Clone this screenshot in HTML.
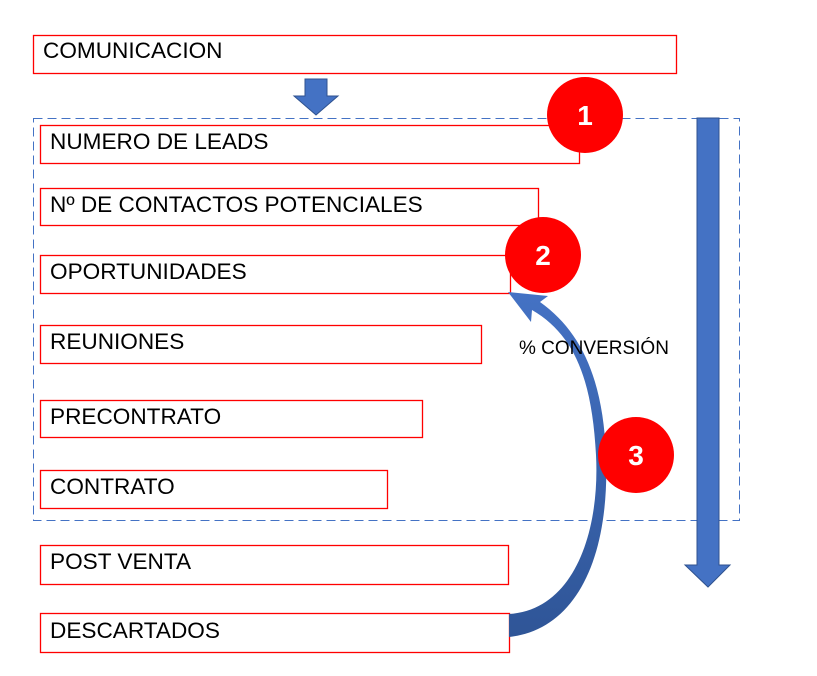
<!DOCTYPE html>
<html><head><style>
body{margin:0;background:#fff;}
svg{display:block;font-family:"Liberation Sans",sans-serif;}
</style></head><body>
<svg width="817" height="676" viewBox="0 0 817 676">
<defs><linearGradient id="g" x1="0" y1="0" x2="0" y2="1"><stop offset="0" stop-color="#4472c4"/><stop offset="1" stop-color="#2f5597"/></linearGradient></defs>
<g fill="#fff" stroke="#ff0000" stroke-width="1.3">
<rect x="33.5" y="35.5" width="643" height="38"/>
<rect x="40.5" y="125.5" width="539" height="38"/>
<rect x="40.5" y="188.5" width="498" height="37"/>
<rect x="40.5" y="255.5" width="470" height="38"/>
<rect x="40.5" y="325.5" width="441" height="38"/>
<rect x="40.5" y="400.5" width="382" height="37"/>
<rect x="40.5" y="470.5" width="347" height="38"/>
<rect x="40.5" y="545.5" width="468" height="39"/>
<rect x="40.5" y="613.5" width="469" height="39"/>
</g>
<rect x="33.5" y="118.5" width="706" height="402" fill="none" stroke="#4472c4" stroke-width="1" stroke-dasharray="9,5"/>
<polygon points="305,79 327,79 327,96 338,96 316,115 294,96 305,96" fill="#4472c4" stroke="#2f528f" stroke-width="1"/>
<polygon points="697,118 719,118 719,565 730,565 708,587 685,565 697,565" fill="#4472c4" stroke="#2f528f" stroke-width="1"/>
<path d="M509,614 C575,610 600,530 596,455 C592,380 575,335 532,310 L531,322 L508,292 L548,296 L540,302 C582,332 603,380 606,455 C610,560 575,630 509,637 Z" fill="url(#g)"/>
<g font-size="22.6" fill="#000">
<text x="43" y="58">COMUNICACION</text>
<text x="50" y="149">NUMERO DE LEADS</text>
<text x="50" y="212">Nº DE CONTACTOS POTENCIALES</text>
<text x="50" y="279">OPORTUNIDADES</text>
<text x="50" y="349">REUNIONES</text>
<text x="50" y="424">PRECONTRATO</text>
<text x="50" y="494">CONTRATO</text>
<text x="50" y="569">POST VENTA</text>
<text x="50" y="638">DESCARTADOS</text>
</g>
<text x="519" y="354" font-size="19">% CONVERSIÓN</text>
<g fill="#ff0000"><circle cx="585" cy="115" r="38"/><circle cx="543" cy="255" r="38"/><circle cx="636" cy="455" r="38"/></g>
<g fill="#fff" font-size="28" font-weight="bold" text-anchor="middle">
<text x="585" y="125">1</text><text x="543" y="265">2</text><text x="636" y="465">3</text>
</g>
</svg>
</body></html>
